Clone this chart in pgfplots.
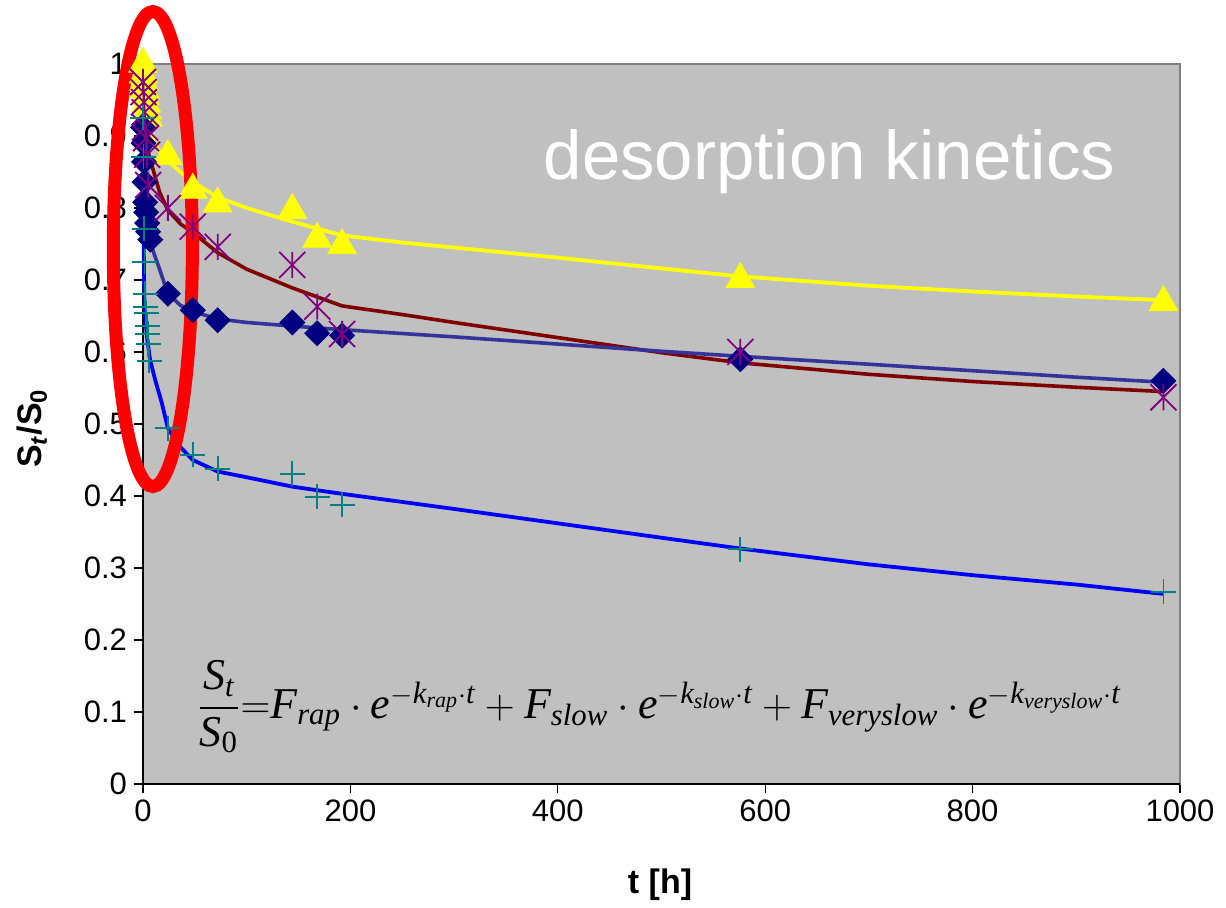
\documentclass[border=0pt]{standalone}
\usepackage{fontspec}
\setmainfont{Liberation Sans}
\newfontfamily\tnr{Liberation Serif}
\usepackage{amsmath}
\usepackage{pgfplots}
\pgfplotsset{compat=1.18}

\definecolor{bgray}{HTML}{C0C0C0}
\definecolor{bordgray}{HTML}{808080}
\definecolor{navy}{HTML}{000080}
\definecolor{slate}{HTML}{333399}
\definecolor{dred}{HTML}{800000}
\definecolor{purp}{HTML}{800080}
\definecolor{teal2}{HTML}{008080}
\definecolor{yel}{HTML}{FFFF00}

\pgfdeclareplotmark{xast}{%
 \pgfpathmoveto{\pgfqpoint{-\pgfplotmarksize}{-\pgfplotmarksize}}%
 \pgfpathlineto{\pgfqpoint{\pgfplotmarksize}{\pgfplotmarksize}}%
 \pgfpathmoveto{\pgfqpoint{-\pgfplotmarksize}{\pgfplotmarksize}}%
 \pgfpathlineto{\pgfqpoint{\pgfplotmarksize}{-\pgfplotmarksize}}%
 \pgfpathmoveto{\pgfqpoint{0pt}{-\pgfplotmarksize}}%
 \pgfpathlineto{\pgfqpoint{0pt}{\pgfplotmarksize}}%
 \pgfusepathqstroke}

\newcommand\mi[1]{\text{\tnr\itshape #1}}

\begin{document}
\begin{tikzpicture}
\begin{axis}[
  scale only axis, width=518.5pt, height=360pt,
  xmin=0, xmax=1000, ymin=0, ymax=1,
  clip=false,
  axis background/.style={fill=bgray},
  axis line style={draw=bordgray, line width=0.8pt},
  xtick={0,200,400,600,800,1000},
  ytick={0,0.1,0.2,0.3,0.4,0.5,0.6,0.7,0.8,0.9,1},
  yticklabels={0,0.1,0.2,0.3,0.4,0.5,0.6,0.7,0.8,0.9,1},
  tick pos=left, tick align=outside,
  major tick length=4.5pt,
  tick style={black, line width=0.6pt},
  /pgf/number format/1000 sep={},
  /pgf/number format/assume math mode=true,
  tick label style={font=\fontsize{15.5}{18}\selectfont},
  xlabel={\bfseries t [h]},
  ylabel={\bfseries S\textsubscript{\textit{t}}/S\textsubscript{0}},
  label style={font=\fontsize{17}{20}\selectfont},
  xlabel style={at={(axis description cs:0.4986,-0.1403)}, anchor=center},
  ylabel style={at={(axis description cs:-0.107,0.494)}, anchor=center, rotate=0},
]
% axis black left/bottom
\draw[black, line width=0.8pt] (rel axis cs:0,1) -- (rel axis cs:0,0) -- (rel axis cs:1,0);

% fit lines
\addplot[yel, line width=1.9pt, no markers] coordinates {
(0,1.0)(2,0.955)(5,0.925)(10,0.895)(16,0.878)(24,0.866)(36,0.85)(48,0.836)(72,0.815)(100,0.80)(144,0.781)(192,0.762)(250,0.752)(300,0.745)(400,0.731)(500,0.716)(576,0.705)(700,0.692)(800,0.684)(900,0.677)(984,0.672)};
\addplot[dred, line width=1.8pt, no markers] coordinates {
(0,0.97)(3,0.90)(6,0.87)(10,0.852)(16,0.822)(24,0.797)(36,0.778)(48,0.766)(72,0.738)(100,0.715)(144,0.689)(192,0.664)(250,0.652)(300,0.641)(400,0.620)(500,0.599)(576,0.585)(700,0.569)(800,0.559)(900,0.551)(984,0.545)};
\addplot[slate, line width=1.8pt, no markers] coordinates {
(0,0.92)(2,0.84)(4,0.79)(6,0.765)(8.4,0.746)(12,0.731)(16,0.715)(24,0.681)(36,0.665)(48,0.656)(72,0.646)(100,0.641)(144,0.636)(192,0.631)(300,0.621)(400,0.611)(500,0.601)(576,0.594)(700,0.583)(800,0.574)(900,0.565)(984,0.558)};
\addplot[blue, line width=1.9pt, no markers] coordinates {
(0,0.98)(0.3,0.85)(0.7,0.75)(1.2,0.68)(2,0.65)(4,0.62)(6.7,0.59)(12,0.56)(18,0.53)(24,0.494)(36,0.468)(48,0.45)(72,0.434)(100,0.426)(144,0.413)(192,0.403)(300,0.382)(400,0.362)(500,0.342)(576,0.327)(700,0.305)(800,0.29)(900,0.277)(984,0.264)};

% markers
\addplot[only marks, mark=triangle*, mark size=8.3pt, color=yel] coordinates {
(0,1.0)(0.5,0.985)(1,0.975)(1.5,0.965)(2,0.955)(3,0.945)(4,0.935)(5,0.925)(24,0.872)(48,0.825)(72,0.806)(144,0.797)(168,0.757)(192,0.748)(576,0.701)(984,0.669)};
\addplot[only marks, mark=square*, mark size=4.4pt, color=navy, mark options={rotate=45}] coordinates {
(0,0.912)(0.5,0.89)(1,0.864)(1.5,0.836)(2,0.808)(3,0.794)(4,0.779)(5,0.767)(7,0.756)(24,0.681)(48,0.658)(72,0.644)(144,0.641)(168,0.626)(192,0.623)(576,0.59)(984,0.56)};
\addplot[only marks, mark=xast, mark size=6.5pt, color=purp, line width=0.9pt] coordinates {
(0,0.975)(0.5,0.961)(1,0.947)(1.5,0.933)(2,0.912)(3,0.897)(4,0.874)(5,0.832)(24,0.80)(48,0.774)(72,0.746)(144,0.721)(168,0.663)(192,0.625)(576,0.60)(984,0.537)};
\addplot[only marks, mark=+, mark size=6.25pt, color=teal2, line width=0.9pt] coordinates {
(0,0.925)(0.5,0.871)(1,0.771)(1.5,0.725)(2,0.681)(2.5,0.663)(3,0.654)(4,0.636)(4.5,0.625)(5,0.611)(6,0.588)(24,0.494)(48,0.457)(72,0.438)(144,0.431)(168,0.399)(192,0.388)(576,0.326)(984,0.267)};

% title and formula
\node[anchor=base west, text=white, font=\fontsize{34.5}{40}\selectfont, inner sep=0pt] at (axis cs:386,0.839) {desorption kinetics};
\node[anchor=west, inner sep=0pt, font=\fontsize{22}{26}\selectfont] at (axis cs:52,0.107)
 {$\dfrac{\mi{S}_{\mi{t}}}{\mi{S}_{\text{\tnr 0}}}{=}\mi{F}_{\mi{rap}}\cdot \mi{e}^{-\mi{k}_{\mi{rap}}\cdot \mi{t}} + \mi{F}_{\mi{slow}}\cdot \mi{e}^{-\mi{k}_{\mi{slow}}\cdot\mi{t}} + \mi{F}_{\mi{veryslow}}\cdot \mi{e}^{-\mi{k}_{\mi{veryslow}}\cdot\mi{t}}$};

% red ellipse annotation
\draw[red, line width=6.5pt] (axis cs:9.5,0.743) ellipse [x radius=19.75pt, y radius=118.75pt];

\coordinate (BL) at (rel axis cs:-0.13790,-0.17222);
\coordinate (TR) at (rel axis cs:1.04436,1.08889);
\end{axis}
\pgfresetboundingbox
\path[use as bounding box] (BL) rectangle (TR);
\end{tikzpicture}
\end{document}
